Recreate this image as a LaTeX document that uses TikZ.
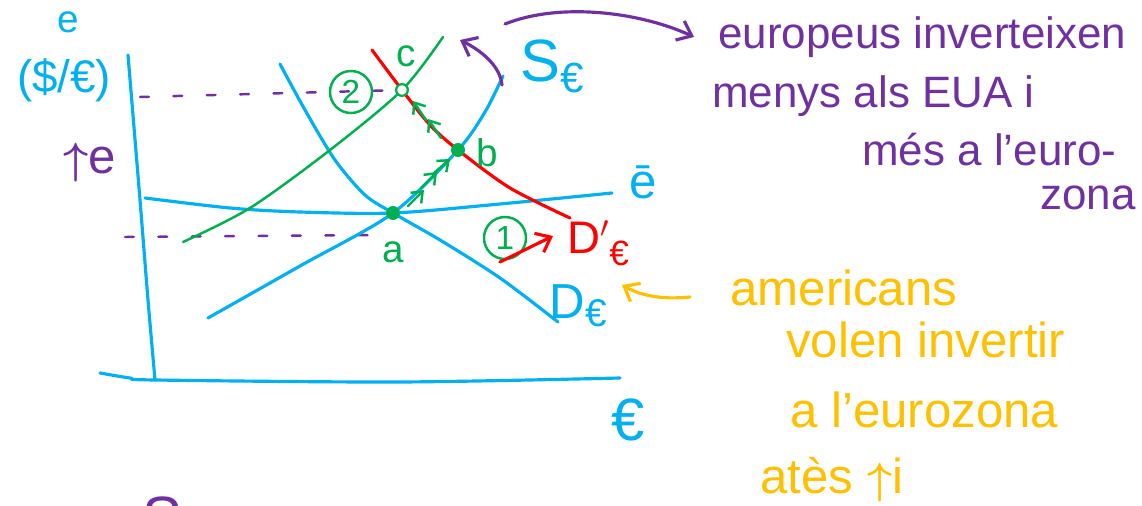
\documentclass[tikz,border=0pt]{standalone}
\usepackage{amsmath}
\usepackage{fontspec}
\setmainfont{Liberation Sans}
\usetikzlibrary{arrows.meta}
\definecolor{penblue}{RGB}{0,176,240}
\definecolor{pengreen}{RGB}{0,176,80}
\definecolor{penred}{RGB}{255,0,0}
\definecolor{penpurple}{RGB}{112,48,160}
\definecolor{penorange}{RGB}{255,192,0}
\tikzset{
  ink/.style     = {line width=1.8pt, line cap=round, line join=round},
  axisline/.style = {ink, penblue},
  mkt/.style     = {ink, penblue},
  newmkt/.style  = {ink, penred},
  shiftline/.style = {ink, pengreen, line width=1.4pt},
  guide/.style   = {ink, penpurple, line width=1.4pt, dash pattern=on 5pt off 14pt},
  pen/.style     = {-{Straight Barb[length=2.6mm, width=4.2mm]}, ink},
  tick/.style    = {-{Straight Barb[length=1.9mm, width=3mm]}, pengreen, line width=1.4pt, line cap=round},
  eq/.style      = {circle, draw=pengreen, fill=pengreen, line width=1.2pt, inner sep=0pt, minimum size=2.3mm},
  eqlbl/.style   = {text=pengreen, font=\fontsize{22}{24}\selectfont, inner sep=1pt},
  stepnum/.style = {circle, draw=pengreen, line width=1.4pt, text=pengreen, inner sep=0pt,
                    minimum size=8.4mm, font=\fontsize{19}{21}\selectfont},
  blulbl/.style  = {text=penblue, inner sep=1pt},
  note/.style    = {anchor=west, inner sep=0pt},
  eunote/.style  = {note, text=penpurple, font=\fontsize{25}{28}\selectfont},
  usnote/.style  = {note, text=penorange, font=\fontsize{28}{32}\selectfont},
}

\begin{document}
\begin{tikzpicture}[x=0.02cm, y=-0.02cm]
    \useasboundingbox (0,0) rectangle (1142,506);

    \node[eq] (a) at (393,213) {};
    \node[eq] (b) at (458,150) {};
    \node[eq, fill=white] (c) at (402,90) {};

    \draw[axisline] plot[smooth] coordinates {(128,55) (140,200) (148,300) (155,380)};
    \draw[axisline] plot[smooth] coordinates {(100,373) (130,378) (155,380) (400,382) (620,378)};

    \draw[guide] (140,97) -- (c);
    \draw[guide] (125,237) -- (385,235);

    \draw[mkt] plot[smooth] coordinates {(145,198) (230,208) (300,212) (a.center) (500,204) (612,193)};
    \draw[mkt] plot[smooth] coordinates {(208,318) (300,266) (a.center) (b.center) (485,112) (503,76)};
    \draw[mkt] plot[smooth] coordinates {(280,64) (305,110) (335,160) (365,195) (a.center) (440,240) (500,278) (558,322)};
    \draw[newmkt] plot[smooth] coordinates {(372,50) (c.center) (430,125) (b.center) (510,188) (570,218)};
    \draw[shiftline] plot[smooth] coordinates {(183,242) (250,208) (330,150) (c.center) (443,37)};

    \node[eq] at (a) {};
    \node[eq] at (b) {};
    \node[eq, fill=white] at (c) {};

    \node[eqlbl] (alab) at (393,252) {a};
    \node[eqlbl] (blab) at (487,153) {b};
    \node[eqlbl] (clab) at (406,56) {c};

    \node[stepnum] (two) at (351,92) {2};
    \node[stepnum] (one) at (505,238) {1};
    \coordinate (onetail) at (500,262);
    \coordinate (onetip) at (553,236);
    \draw[pen, penred] (onetail) -- (onetip);

    \draw[tick] (408,206) -- (424,190);
    \draw[tick] (421,188) -- (437,172);
    \draw[tick] (434,173) -- (450,159);
    \draw[tick] (441,138) -- (428,119);
    \draw[tick] (426,120) -- (413,101);

    \coordinate (sbend) at (502,85);
    \coordinate (stop) at (460,40);
    \draw[pen, penpurple] (sbend) .. controls (500,65) and (480,50) .. (stop);

    \node[blulbl, inner sep=0pt, font=\fontsize{22}{24}\selectfont] (elab) at (68,22) {e};
    \node[blulbl, font=\fontsize{26}{28}\selectfont] (ratio) at (64,80) {(\$/€)};
    \node[text=penpurple, font=\fontsize{28}{30}\selectfont, inner sep=1pt] (up) at (90,163) {$\boldsymbol{\uparrow}$e};
    \node[blulbl, font=\fontsize{34}{36}\selectfont] (slab) at (552,66) {S\raisebox{-0.35ex}{\fontsize{24}{26}\selectfont €}};
    \node[blulbl, font=\fontsize{28}{30}\selectfont] (ebar) at (643,182) {ē};
    \node[blulbl, font=\fontsize{28}{30}\selectfont] (dlab) at (578,306) {D\raisebox{-0.3ex}{\fontsize{22}{24}\selectfont €}};
    \node[text=penred, inner sep=1pt, font=\fontsize{26}{28}\selectfont] (dnew) at (598,243) {D$'$\raisebox{-0.5ex}{\fontsize{20}{22}\selectfont €}};
    \node[blulbl, font=\fontsize{34}{36}\selectfont] (eur) at (628,420) {€};

    \node[eunote] (eu1) at (718,37) {europeus inverteixen};
    \node[eunote] (eu2) at (712,96) {menys als EUA i};
    \node[eunote] (eu3) at (862,150) {més a l'euro-};
    \node[eunote] (eu4) at (1040,198) {zona};
    \coordinate (eustart) at (505,24);
    \coordinate (eutip) at (694,37);
    \draw[pen, penpurple] (eustart) .. controls (560,2) and (640,12) .. (eutip);

    \node[usnote] (us1) at (730,288) {americans};
    \node[usnote] (us2) at (786,340) {volen invertir};
    \node[usnote] (us3) at (790,410) {a l'eurozona};
    \node[usnote] (us4) at (760,480) {atès $\boldsymbol{\uparrow}$i};
    \coordinate (usstart) at (690,297);
    \coordinate (ustip) at (622,285);
    \draw[pen, penorange] (usstart) .. controls (660,300) and (640,295) .. (ustip);

    \node[text=penpurple, inner sep=0pt, font=\fontsize{34}{36}\selectfont] (cut) at (162,518) {S};
\end{tikzpicture}
\end{document}
